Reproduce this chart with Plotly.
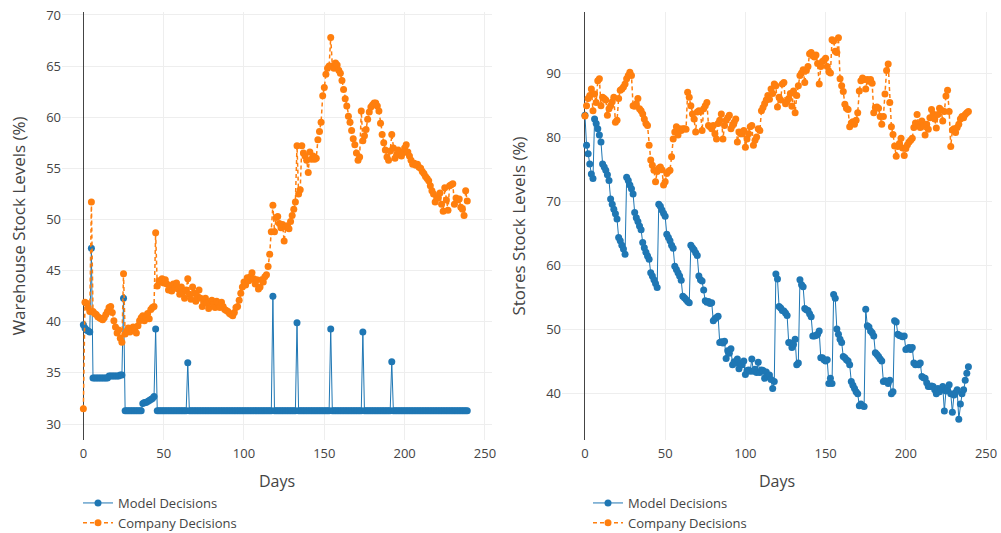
import plotly.graph_objects as go

# ---------------- data ----------------
days = list(range(240))

wh_model = [
    39.7, 39.4, 39.2, 39.1, 39.0, 47.2, 34.5, 34.5, 34.5, 34.5,
    34.5, 34.5, 34.5, 34.5, 34.5, 34.5, 34.7, 34.7, 34.7, 34.7,
    34.7, 34.7, 34.7, 34.8, 34.8, 42.3, 31.3, 31.3, 31.3, 31.3,
    31.3, 31.3, 31.3, 31.3, 31.3, 31.3, 31.3, 32.0, 32.1, 32.1,
    32.2, 32.3, 32.4, 32.5, 32.7, 39.3, 31.3, 31.3, 31.3, 31.3,
    31.3, 31.3, 31.3, 31.3, 31.3, 31.3, 31.3, 31.3, 31.3, 31.3,
    31.3, 31.3, 31.3, 31.3, 31.3, 36.0, 31.3, 31.3, 31.3, 31.3,
    31.3, 31.3, 31.3, 31.3, 31.3, 31.3, 31.3, 31.3, 31.3, 31.3,
    31.3, 31.3, 31.3, 31.3, 31.3, 31.3, 31.3, 31.3, 31.3, 31.3,
    31.3, 31.3, 31.3, 31.3, 31.3, 31.3, 31.3, 31.3, 31.3, 31.3,
    31.3, 31.3, 31.3, 31.3, 31.3, 31.3, 31.3, 31.3, 31.3, 31.3,
    31.3, 31.3, 31.3, 31.3, 31.3, 31.3, 31.3, 31.3, 42.5, 31.3,
    31.3, 31.3, 31.3, 31.3, 31.3, 31.3, 31.3, 31.3, 31.3, 31.3,
    31.3, 31.3, 31.3, 39.9, 31.3, 31.3, 31.3, 31.3, 31.3, 31.3,
    31.3, 31.3, 31.3, 31.3, 31.3, 31.3, 31.3, 31.3, 31.3, 31.3,
    31.3, 31.3, 31.3, 31.3, 39.3, 31.3, 31.3, 31.3, 31.3, 31.3,
    31.3, 31.3, 31.3, 31.3, 31.3, 31.3, 31.3, 31.3, 31.3, 31.3,
    31.3, 31.3, 31.3, 31.3, 39.0, 31.3, 31.3, 31.3, 31.3, 31.3,
    31.3, 31.3, 31.3, 31.3, 31.3, 31.3, 31.3, 31.3, 31.3, 31.3,
    31.3, 31.3, 36.1, 31.3, 31.3, 31.3, 31.3, 31.3, 31.3, 31.3,
    31.3, 31.3, 31.3, 31.3, 31.3, 31.3, 31.3, 31.3, 31.3, 31.3,
    31.3, 31.3, 31.3, 31.3, 31.3, 31.3, 31.3, 31.3, 31.3, 31.3,
    31.3, 31.3, 31.3, 31.3, 31.3, 31.3, 31.3, 31.3, 31.3, 31.3,
    31.3, 31.3, 31.3, 31.3, 31.3, 31.3, 31.3, 31.3, 31.3, 31.3,
]

wh_company = [
    31.5, 41.9, 41.8, 41.4, 41.0, 51.7, 41.0, 40.8, 40.7, 40.5,
    40.4, 40.3, 40.2, 40.4, 40.7, 41.0, 41.4, 41.5, 40.9, 40.1,
    39.5, 38.9, 39.2, 38.4, 38.0, 44.7, 38.8, 39.1, 39.4, 39.0,
    39.3, 39.5, 39.2, 38.9, 39.6, 40.1, 40.4, 40.6, 40.1, 40.4,
    40.8, 40.3, 41.2, 41.4, 41.5, 48.7, 43.5, 44.0, 43.9, 44.2,
    43.8, 44.1, 43.7, 43.1, 43.5, 43.0, 43.7, 43.3, 43.8, 43.2,
    42.7, 43.4, 42.9, 42.3, 43.1, 44.2, 42.7, 42.2, 43.4, 42.8,
    42.0, 42.5, 43.1, 42.3, 41.5, 41.9, 42.3, 41.8, 41.3, 41.9,
    42.1, 41.7, 41.4, 42.0, 41.8, 41.4, 41.9, 41.5, 41.2, 41.1,
    41.0, 40.8, 40.7, 40.6, 40.9, 41.4, 41.5, 42.1, 42.8, 43.4,
    43.9, 43.6, 44.3, 44.0, 44.4, 44.8, 44.2, 43.7, 44.1, 43.2,
    43.4, 44.1, 43.9, 44.4, 44.6, 45.4, 46.6, 48.8, 51.4, 48.8,
    50.2, 50.3, 49.6, 49.2, 49.5, 47.9, 49.3, 49.4, 49.1, 49.8,
    50.4, 51.0, 51.7, 57.2, 52.5, 52.9, 57.2, 56.5, 56.2, 55.8,
    54.6, 56.6, 55.9, 56.2, 55.9, 56.0, 57.8, 58.6, 59.5, 62.1,
    62.9, 64.2, 64.8, 65.0, 67.8, 65.0, 64.8, 65.3, 65.1, 64.6,
    64.3, 63.6, 62.7, 61.8, 61.1, 60.1, 59.5, 58.7, 57.9, 57.3,
    56.5, 55.8, 56.1, 60.6, 57.7, 58.2, 58.8, 59.8, 60.5, 61.0,
    61.2, 61.4, 61.4, 61.1, 60.6, 59.4, 58.3, 57.5, 56.8, 56.1,
    55.8, 56.7, 58.3, 57.0, 56.0, 56.3, 56.8, 56.6, 56.2, 56.5,
    57.0, 57.3, 56.6, 56.2, 55.8, 55.4, 55.5, 55.3, 55.4, 55.1,
    55.0, 54.7, 54.5, 54.2, 54.0, 53.8, 53.3, 52.8, 52.5, 51.7,
    52.1, 52.1, 52.6, 51.5, 50.8, 53.1, 51.9, 50.9, 53.3, 53.4,
    53.5, 51.5, 52.1, 51.9, 52.0, 51.2, 51.0, 50.4, 52.8, 51.8,
]

st_model = [
    83.4, 78.7, 77.4, 75.8, 74.2, 73.5, 82.8, 82.1, 81.3, 80.3,
    79.2, 75.8, 75.3, 74.8, 74.1, 73.2, 70.3, 69.5, 68.7, 68.0,
    67.2, 64.3, 63.8, 63.1, 62.5, 61.7, 73.7, 73.2, 72.5, 71.9,
    71.1, 68.2, 67.4, 66.8, 66.1, 65.5, 63.5, 62.7, 62.0, 61.4,
    60.9, 58.8, 58.3, 57.7, 57.1, 56.5, 69.5, 69.2, 68.6, 68.1,
    67.6, 64.8, 64.3, 63.8, 63.1, 62.6, 59.8, 59.3, 58.8, 58.3,
    57.6, 55.1, 54.9, 54.6, 54.3, 54.1, 63.1, 62.7, 62.4, 61.9,
    61.5, 58.3, 57.7, 57.5, 56.1, 54.4, 54.2, 54.3, 54.0, 54.1,
    51.3, 51.6, 51.8, 52.0, 47.9, 48.0, 47.8, 48.1, 45.4, 46.6,
    46.2, 46.9, 44.4, 44.9, 44.7, 45.3, 43.8, 44.6, 44.4, 45.0,
    42.9, 43.5, 43.6, 43.4, 45.3, 43.4, 43.7, 43.2, 44.8, 43.2,
    43.6, 43.5, 42.3, 43.3, 42.6, 42.8, 42.1, 40.7, 41.8, 58.6,
    57.8, 53.5, 53.3, 52.9, 52.8, 52.5, 52.1, 47.9, 47.8, 47.1,
    47.6, 48.4, 44.4, 44.7, 57.7, 56.9, 56.6, 53.2, 53.0, 52.9,
    52.4, 51.9, 48.9, 48.9, 49.0, 49.2, 49.7, 45.5, 45.5, 45.2,
    45.0, 45.2, 41.5, 42.3, 41.5, 55.4, 54.8, 50.0, 49.2, 48.4,
    47.9, 45.7, 45.5, 45.2, 45.0, 44.4, 41.8, 41.2, 40.7, 40.2,
    39.9, 38.0, 38.3, 38.0, 37.9, 53.1, 50.5, 50.3, 49.7, 49.4,
    48.9, 46.3, 46.0, 45.7, 45.3, 45.0, 41.8, 41.9, 41.8, 41.5,
    42.0, 39.9, 40.2, 51.3, 51.1, 49.2, 49.0, 48.9, 48.8, 48.9,
    46.8, 46.9, 47.1, 46.8, 47.1, 44.7, 44.4, 44.5, 44.4, 44.7,
    42.6, 42.4, 42.3, 41.6, 41.0, 41.0, 41.1, 41.0, 40.5, 39.9,
    40.7, 40.2, 40.6, 41.0, 37.2, 40.3, 40.5, 41.3, 39.9, 37.0,
    39.7, 40.1, 40.5, 35.9, 38.3, 39.9, 40.5, 42.0, 43.1, 44.1,
]

st_company = [
    83.3, 84.9, 86.0, 86.5, 87.5, 84.1, 86.7, 85.4, 88.8, 89.1,
    84.9, 86.2, 86.0, 85.8, 83.4, 84.4, 84.9, 85.5, 86.2, 82.3,
    82.6, 86.0, 87.3, 87.5, 87.8, 88.3, 89.1, 89.6, 90.1, 89.6,
    84.9, 84.8, 85.2, 86.0, 84.4, 84.1, 83.6, 82.8, 82.1, 81.8,
    78.7, 76.4, 75.6, 74.8, 73.0, 74.6, 75.1, 75.3, 74.9, 72.5,
    73.0, 74.3, 74.6, 74.8, 76.9, 79.7, 80.8, 81.6, 80.3, 81.3,
    81.0, 81.3, 81.3, 81.2, 87.0, 86.2, 84.9, 83.6, 82.8, 80.8,
    83.9, 84.1, 84.0, 81.0, 84.4, 84.9, 85.4, 81.8, 81.6, 81.3,
    81.8, 80.5, 79.7, 82.1, 82.6, 83.6, 79.7, 81.8, 82.6, 83.0,
    83.4, 81.3, 81.8, 82.3, 82.8, 79.2, 80.8, 80.5, 80.5, 81.0,
    78.4, 79.7, 80.5, 81.6, 81.8, 78.7, 79.5, 80.0, 81.3, 81.0,
    84.1, 84.6, 85.2, 85.8, 86.5, 85.9, 87.5, 86.8, 88.3, 88.0,
    84.7, 86.2, 85.8, 88.3, 88.5, 85.2, 85.6, 86.0, 86.8, 84.8,
    87.2, 83.8, 86.5, 88.0, 89.6, 90.0, 90.5, 88.5, 90.4, 91.0,
    93.0, 93.2, 92.7, 92.5, 92.8, 91.5, 88.3, 91.0, 91.8, 92.0,
    92.3, 91.0, 90.2, 90.0, 95.2, 95.0, 93.4, 93.2, 95.5, 89.1,
    88.0, 87.1, 85.1, 84.5, 84.3, 81.6, 82.2, 82.4, 82.0, 82.6,
    83.8, 87.2, 88.8, 89.2, 89.0, 87.5, 89.0, 88.7, 89.0, 88.4,
    83.8, 84.6, 84.7, 84.5, 83.2, 82.0, 83.2, 86.7, 90.4, 91.4,
    85.4, 81.6, 80.4, 78.6, 77.0, 78.5, 79.0, 79.8, 78.3, 77.1,
    78.2, 78.8, 79.2, 79.5, 79.8, 81.5, 82.2, 83.5, 82.0, 81.5,
    82.5, 81.8, 80.3, 82.0, 81.2, 83.0, 84.3, 83.6, 82.8, 81.4,
    83.5, 84.5, 84.2, 82.5, 84.0, 86.4, 87.3, 84.0, 78.5, 81.1,
    81.3, 80.7, 81.5, 82.0, 82.8, 83.2, 83.0, 83.5, 83.8, 84.0,
]

series_names = ["Model Decisions", "Company Decisions"]
x_title = "Days"
y_titles = ["Warehouse Stock Levels (%)", "Stores Stock Levels (%)"]

# ---------------- styling ----------------
BLUE = "#1f77b4"
ORANGE = "#ff7f0e"
W, H = 1001, 533
TOP, BOTTOM = 12, 440

fig = go.Figure()

panels = [
    ("x", "y", "legend", wh_model, wh_company),
    ("x2", "y2", "legend2", st_model, st_company),
]
for xa, ya, lg, model, company in panels:
    fig.add_trace(go.Scatter(
        x=days[:len(model)], y=model, mode="lines+markers", name=series_names[0],
        line=dict(color=BLUE, width=1), marker=dict(color=BLUE, size=7),
        xaxis=xa, yaxis=ya, legend=lg,
    ))
    fig.add_trace(go.Scatter(
        x=days[:len(company)], y=company, mode="lines+markers", name=series_names[1],
        line=dict(color=ORANGE, width=1.5, dash="4px,3px"), marker=dict(color=ORANGE, size=7),
        xaxis=xa, yaxis=ya, legend=lg,
    ))

axis_common = dict(
    gridcolor="#eee", zerolinecolor="#444", zerolinewidth=1, showline=False,
    ticks="", automargin=False, tickfont=dict(size=13, color="#444"),
)
xaxis_extra = dict(ticklabelstandoff=4, dtick=50)

legend_common = dict(
    xanchor="left", yanchor="top", orientation="v", bgcolor="rgba(0,0,0,0)",
    font=dict(size=13, color="#444"), tracegroupgap=0,
)

LEG_TOP = 488
fig.update_layout(
    template="none",
    width=W, height=H,
    margin=dict(l=0, r=0, t=TOP, b=H - BOTTOM, autoexpand=False),
    paper_bgcolor="white", plot_bgcolor="white",
    font=dict(family="Open Sans, Verdana, Arial, sans-serif", size=13, color="#444"),
    xaxis=dict(domain=[62 / W, 492 / W], range=[-13.3, 254.4], anchor="y",
               title=dict(text=x_title, font=dict(size=16), standoff=14),
               **xaxis_extra, **axis_common),
    yaxis=dict(domain=[0, 1], range=[28.44, 70.29], dtick=5, anchor="x",
               title=dict(text=y_titles[0], font=dict(size=17), standoff=16), **axis_common),
    xaxis2=dict(domain=[562 / W, 992 / W], range=[-14.3, 253.7], anchor="y2",
                title=dict(text=x_title, font=dict(size=16), standoff=14),
                **xaxis_extra, **axis_common),
    yaxis2=dict(domain=[0, 1], range=[32.66, 99.53], dtick=10, anchor="x2",
                title=dict(text=y_titles[1], font=dict(size=17), standoff=16), **axis_common),
    legend=dict(x=78 / W, y=(BOTTOM - LEG_TOP) / (BOTTOM - TOP), **legend_common),
    legend2=dict(x=588 / W, y=(BOTTOM - LEG_TOP) / (BOTTOM - TOP), **legend_common),
    showlegend=True,
)

fig.write_html("out.html")
